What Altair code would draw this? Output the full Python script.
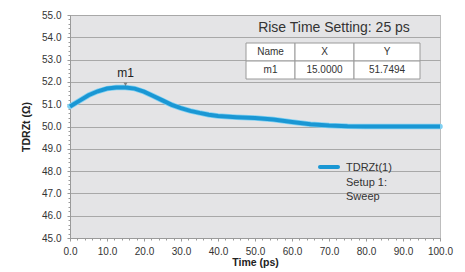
import altair as alt
import pandas as pd

# ---- data ----
time_ps = [0, 2.5, 5, 7.5, 10, 12.5, 15, 17.5, 20, 22.5, 25, 27.5, 30, 32.5, 35, 37.5,
           40, 45, 50, 55, 60, 65, 70, 75, 80, 85, 90, 95, 100]
tdr_z = [50.90, 51.15, 51.40, 51.58, 51.70, 51.75, 51.75, 51.70, 51.56, 51.37, 51.17,
         50.97, 50.82, 50.70, 50.61, 50.53, 50.47, 50.42, 50.38, 50.31, 50.20, 50.10,
         50.04, 50.01, 50.00, 50.00, 50.00, 50.00, 50.00]

x_ticks = [0, 10, 20, 30, 40, 50, 60, 70, 80, 90, 100]
y_ticks = [45, 46, 47, 48, 49, 50, 51, 52, 53, 54, 55]
x_minor = [i * 2 for i in range(51)]
y_minor = [round(45 + i * 0.2, 1) for i in range(51)]

marker_name = ["m1"]
marker_x = [15.0]
marker_y = [51.7494]

table_header = ["Name", "X", "Y"]
table_row = ["m1", "15.0000", "51.7494"]
table_title = "Rise Time Setting: 25 ps"
legend_lines = ["TDRZt(1)", "Setup 1:", "Sweep"]

FONT = "Liberation Sans"
BLUE = "#1a97d4"

df = pd.DataFrame({"t": time_ps, "z": tdr_z})
xs = alt.Scale(domain=[0, 100], nice=False, zero=False)
ys = alt.Scale(domain=[45, 55], nice=False, zero=False)

base = alt.Chart(df)

halo = base.mark_line(color="#7fd0f2", strokeWidth=5.5, strokeCap="round").encode(
    x=alt.X("t:Q", scale=xs, title="Time (ps)",
            axis=alt.Axis(values=x_ticks, format=".1f", grid=False, orient="bottom",
                          tickSize=3, labelPadding=5, titlePadding=1, labelFlush=False)),
    y=alt.Y("z:Q", scale=ys, title="TDRZt (Ω)",
            axis=alt.Axis(values=y_ticks, format=".1f", grid=True, orient="left",
                          tickSize=3, labelPadding=6, titlePadding=10, labelFlush=False)),
)
line = base.mark_line(color=BLUE, strokeWidth=4).encode(
    x=alt.X("t:Q", scale=xs, axis=alt.Axis(values=x_minor, labels=False, grid=False,
                                             orient="bottom", tickSize=2, title=None, domain=False)),
    y=alt.Y("z:Q", scale=ys, axis=alt.Axis(values=y_minor, labels=False, grid=False,
                                             orient="left", tickSize=2, title=None, domain=False)),
)

mdf = pd.DataFrame({"name": marker_name, "x": marker_x, "y": marker_y})
mbase = alt.Chart(mdf).encode(x=alt.X("x:Q", scale=xs, axis=None), y=alt.Y("y:Q", scale=ys, axis=None))
mpoint = mbase.mark_point(shape="triangle-down", size=14, filled=True, color="#555555", yOffset=-3)
mtext = mbase.mark_text(font=FONT, fontSize=12, color="#222222", dy=-14).encode(text="name:N")

# table annotation (pixel layout inside the plot area)
col_edges = [176, 225, 284, 350]
row_edges = [28, 46, 64]
cells = []
for r, row in enumerate([table_header, table_row]):
    for c, txt in enumerate(row):
        cells.append({"x1": col_edges[c], "x2": col_edges[c + 1],
                      "y1": row_edges[r], "y2": row_edges[r + 1],
                      "xc": (col_edges[c] + col_edges[c + 1]) / 2,
                      "yc": (row_edges[r] + row_edges[r + 1]) / 2, "txt": txt})
cdf = pd.DataFrame(cells)
pix = alt.Scale(domain=[0, 370], range=[0, 370])
piy = alt.Scale(domain=[0, 223], range=[0, 223])
cell_rect = alt.Chart(cdf).mark_rect(fill="white", stroke="#9a9a9a", strokeWidth=1).encode(
    x=alt.X("x1:Q", scale=pix, axis=None), x2="x2:Q",
    y=alt.Y("y1:Q", scale=piy, axis=None), y2="y2:Q")
cell_text = alt.Chart(cdf).mark_text(font=FONT, fontSize=10, color="#333333").encode(
    x=alt.X("xc:Q", scale=pix, axis=None), y=alt.Y("yc:Q", scale=piy, axis=None), text="txt:N")

title_text = alt.Chart(pd.DataFrame({"t": [table_title]})).mark_text(
    font=FONT, fontSize=14, color="#333333").encode(
    x=alt.value(264), y=alt.value(13), text="t:N")

leg_line = alt.Chart(pd.DataFrame({"a": [0]})).mark_rule(color=BLUE, strokeWidth=4, strokeCap="round").encode(
    x=alt.value(250), x2=alt.value(268), y=alt.value(152))
ldf = pd.DataFrame({"txt": legend_lines, "i": [0, 1, 2]})
leg_text = alt.Chart(ldf).mark_text(font=FONT, fontSize=11, color="#333333", align="left").encode(
    x=alt.value(276), y=alt.Y("i:Q", scale=alt.Scale(domain=[0, 2], range=[153, 182]), axis=None),
    text="txt:N")

chart = alt.layer(
    halo, line, mpoint, mtext, cell_rect, cell_text, title_text, leg_line, leg_text
).resolve_axis(x="independent", y="independent").resolve_scale(x="independent", y="independent").properties(
    width=370, height=223,
    autosize=alt.AutoSizeParams(type="none"),
    padding={"left": 62, "top": 7, "right": 17, "bottom": 30},
).configure_view(fill="#e4e4e6", stroke="#bdbdbd", strokeWidth=1).configure_axis(
    labelFont=FONT, labelFontSize=10, labelColor="#333333",
    titleFont=FONT, titleFontSize=10.5, titleFontWeight="bold", titleColor="#222222",
    domainColor="#9a9a9a", tickColor="#9a9a9a", gridColor="#a8a8a8", gridWidth=1,
)

chart.save("out.html", embed_options={"renderer": "svg", "actions": False})
